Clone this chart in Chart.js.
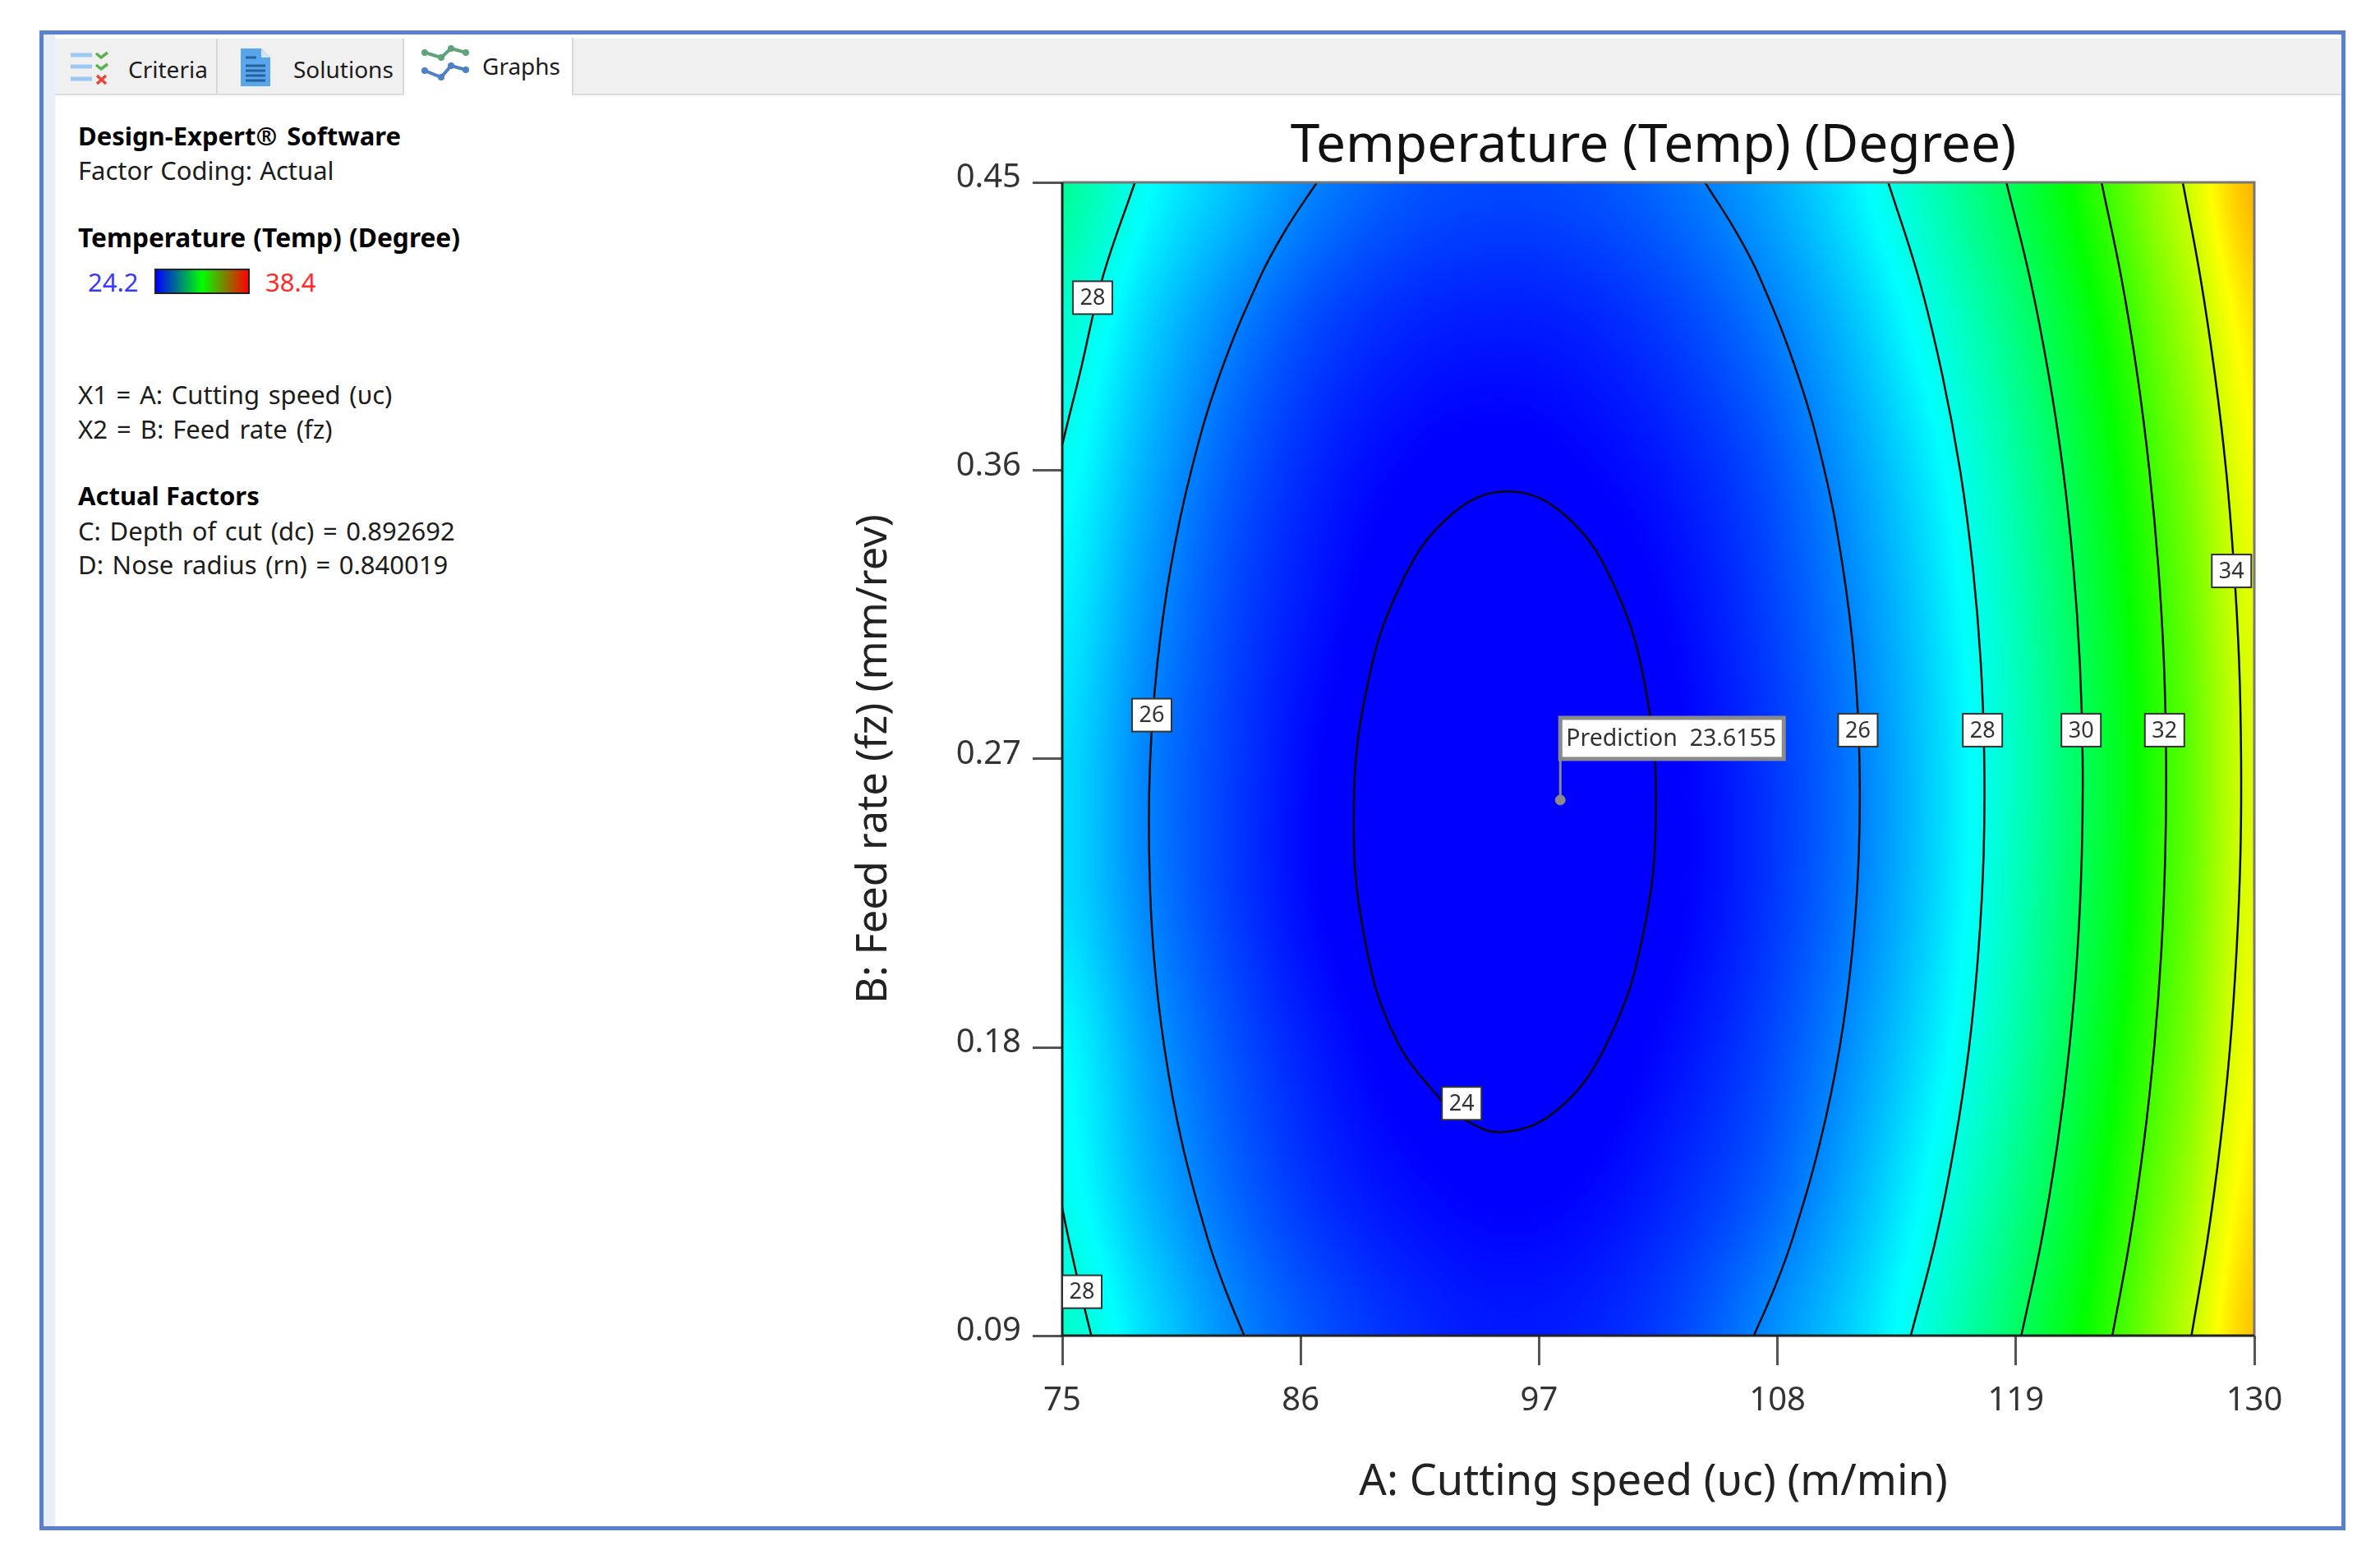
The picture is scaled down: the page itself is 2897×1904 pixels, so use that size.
<!DOCTYPE html>
<html>
<head>
<meta charset="utf-8">
<title>Temperature (Temp) (Degree)</title>
<script src="https://cdn.jsdelivr.net/npm/chart.js@4/dist/chart.umd.min.js"></script>
<style>
    html, body { margin: 0; padding: 0; background: #fff; width: 2897px; height: 1904px; overflow: hidden; }
    body { font-family: "Noto Sans", "Open Sans", sans-serif; color: #1c1c1c; }
    #frame { position: absolute; left: 48px; top: 37px; width: 2797px; height: 1816px; border: 5px solid #5b80cc; background: #fff; }
    #strip { position: absolute; left: 53px; top: 42px; width: 14px; height: 1816px; background: #e9effa; }
    #tabbar { position: absolute; left: 67px; top: 47px; width: 2783px; height: 67px; background: #f0f0f0; border-bottom: 2px solid #dcdcdc; }
    .tab { position: absolute; top: 47px; height: 67px; background: #f0f0f0; border-right: 2px solid #d8d8d8; box-sizing: border-box; }
    .tab.on { background: #fff; height: 70px; top: 46px; }
    .t { position: absolute; white-space: pre; line-height: 40px; font-size: 28px; }
    .s { font-size: 31px; }
    .w { font-size: 31px; word-spacing: 2.6px; }
    .b { font-weight: 700; color: #000; }
    svg { position: absolute; }
    #swatch { position: absolute; left: 188px; top: 327px; width: 112px; height: 27px; border: 2px solid #222;
        background: linear-gradient(90deg, #0000ff, #00ff00 50%, #ff0000); }
    canvas { position: absolute; left: 0; top: 0; }
</style>
</head>
<body>
<div id="frame"></div>
<div id="strip"></div>
<div id="tabbar"></div>
<div class="tab" style="left:67px;width:198px"></div>
<div class="tab" style="left:265px;width:227px"></div>
<div class="tab on" style="left:492px;width:206px"></div>

<svg style="left:84px;top:62px" width="50" height="44" viewBox="0 0 50 44">
    <path d="M2 5h26M2 19h26M2 34h26" stroke="#9cc8f2" stroke-width="5"/>
    <path d="M33 3l6 5 8-6M33 17l6 5 8-6" stroke="#5bb04f" stroke-width="3.5" fill="none"/>
    <path d="M34 30l11 10M45 30l-11 10" stroke="#e8453c" stroke-width="3.5"/>
</svg>
<svg style="left:292px;top:58px" width="38" height="48" viewBox="0 0 38 48">
    <path d="M1 1h25l11 11v35H1z" fill="#5aa6ea"/>
    <path d="M26 1l11 11H26z" fill="#cfe6fb"/>
    <path d="M7 12h13M7 22h24M7 28h24M7 34h24M7 40h24" stroke="#23619f" stroke-width="3"/>
</svg>
<svg style="left:512px;top:52px" width="60" height="50" viewBox="0 0 60 50">
    <path d="M5 12l20 6 12-11 18 5" stroke="#5fa37a" stroke-width="4" fill="none"/>
    <path d="M5 34l20 8 12-14 18 5" stroke="#4f7fc4" stroke-width="4" fill="none"/>
    <g fill="#5fa37a"><circle cx="5" cy="12" r="4"/><circle cx="25" cy="18" r="4"/><circle cx="37" cy="7" r="4"/><circle cx="55" cy="12" r="4"/></g>
    <g fill="#4f7fc4"><circle cx="5" cy="34" r="4"/><circle cx="25" cy="42" r="4"/><circle cx="37" cy="28" r="4"/><circle cx="55" cy="33" r="4"/></g>
</svg>
<span class="t" style="left:156px;top:64px">Criteria</span>
<span class="t" style="left:357px;top:64px">Solutions</span>
<span class="t" style="left:587px;top:60px">Graphs</span>

<span class="t s b" style="left:95px;top:145px;word-spacing:4px">Design-Expert® Software</span>
<span class="t s" style="left:95px;top:187px;word-spacing:1px">Factor Coding: Actual</span>
<span class="t s b" style="left:95px;top:269px;font-size:31.7px;word-spacing:1px">Temperature (Temp) (Degree)</span>
<span class="t s" style="left:107px;top:323px;color:#3a3aff">24.2</span>
<div id="swatch"></div>
<span class="t s" style="left:323px;top:323px;color:#ff2b2b">38.4</span>
<span class="t w" style="left:95px;top:460px">X1 = A: Cutting speed (υc)</span>
<span class="t w" style="left:95px;top:502px;word-spacing:3px">X2 = B: Feed rate (fz)</span>
<span class="t s b" style="left:95px;top:583px">Actual Factors</span>
<span class="t w" style="left:95px;top:626px">C: Depth of cut (dc) = 0.892692</span>
<span class="t w" style="left:95px;top:667px">D: Nose radius (rn) = 0.840019</span>

<canvas id="chart" width="2897" height="1904"></canvas>

<script>
// 坐标轴
const speedTicks = [75, 86, 97, 108, 119, 130];
const feedTicks = [0.09, 0.18, 0.27, 0.36, 0.45];
const chartTitle = "Temperature (Temp) (Degree)";
const speedTitle = "A: Cutting speed (υc) (m/min)";
const feedTitle = "B: Feed rate (fz) (mm/rev)";

// 颜色场：温度，每行一个进给量，每列一个切削速度
const speedColumns = [75, 79, 83, 87, 91, 95, 99, 103, 107, 111, 115, 119, 123, 127, 130];
const feedRows = [0.45, 0.405, 0.36, 0.315, 0.27, 0.225, 0.18, 0.135, 0.09];
const temp045 = [29.2, 27.8, 26.85, 25.95, 25.4, 25.2, 25.3, 25.7, 26.4, 27.4, 28.7, 30.2, 32.05, 34.2, 35.9];
const temp0405 = [28.4, 27.1, 26.0, 25.15, 24.7, 24.55, 24.65, 25.05, 25.75, 26.75, 28.05, 29.55, 31.4, 33.55, 35.2];
const temp036 = [27.9, 26.6, 25.45, 24.65, 24.2, 24.05, 24.2, 24.55, 25.2, 26.25, 27.5, 29.05, 30.95, 33.05, 34.8];
const temp0315 = [27.55, 26.25, 25.15, 24.4, 23.9, 23.75, 23.85, 24.25, 24.95, 25.95, 27.2, 28.75, 30.65, 32.75, 34.5];
const temp027 = [27.3, 26.0, 25.0, 24.2, 23.8, 23.6, 23.75, 24.1, 24.8, 25.75, 27.05, 28.6, 30.5, 32.6, 34.4];
const temp0225 = [27.3, 26.05, 25.0, 24.2, 23.8, 23.62, 23.75, 24.1, 24.8, 25.8, 27.1, 28.7, 30.6, 32.7, 34.5];
const temp018 = [27.75, 26.4, 25.3, 24.5, 24.0, 23.8, 23.9, 24.35, 25.05, 26.1, 27.4, 28.95, 30.9, 33.0, 34.8];
const temp0135 = [27.95, 26.7, 25.6, 24.8, 24.35, 24.15, 24.25, 24.7, 25.4, 26.5, 27.85, 29.4, 31.3, 33.45, 35.2];
const temp009 = [28.5, 27.25, 26.1, 25.3, 24.8, 24.55, 24.65, 25.1, 26.0, 27.0, 28.3, 29.9, 31.75, 33.95, 35.7];
const tempRows = [temp045, temp0405, temp036, temp0315, temp027, temp0225, temp018, temp0135, temp009];

// 色标
const colorStops = [24.2, 27.75, 31.3, 34.85, 38.4];
const stopColors = [[0, 0, 255], [0, 255, 255], [0, 255, 0], [255, 255, 0], [255, 0, 0]];

// 等高线，[切削速度, 进给量]
const contour24 = [[93.0, 0.1591], [90.38, 0.1828], [88.92, 0.2152], [88.45, 0.2535], [89.04, 0.2918], [90.6, 0.3242], [92.89, 0.3459], [95.55, 0.3535], [98.23, 0.3459], [100.46, 0.3242], [101.92, 0.2918], [102.39, 0.2535], [101.8, 0.2152], [100.24, 0.1828], [97.95, 0.1611], [95.27, 0.1535], [93.0, 0.1591]];
const contour26Left = [[86.75, 0.45], [85.29, 0.435], [84.1, 0.42], [82.27, 0.39], [80.95, 0.36], [80.01, 0.33], [79.39, 0.3], [79.06, 0.27], [79.01, 0.24], [79.21, 0.21], [79.71, 0.18], [80.53, 0.15], [81.72, 0.12], [82.49, 0.105], [83.39, 0.09]];
const contour28TopLeft = [[78.35, 0.45], [76.85, 0.42], [75.8, 0.39], [75.0, 0.368], [74.6, 0.355]];
const contour28BottomLeft = [[74.85, 0.135], [75.3, 0.12], [75.8, 0.105], [76.34, 0.09]];
const contour26Right = [[104.65, 0.45], [106.05, 0.435], [107.2, 0.42], [108.93, 0.39], [110.17, 0.36], [111.01, 0.33], [111.55, 0.3], [111.78, 0.27], [111.75, 0.24], [111.45, 0.21], [110.87, 0.18], [109.95, 0.15], [108.68, 0.12], [107.87, 0.105], [106.91, 0.09]];
const contour28Right = [[113.11, 0.45], [114.52, 0.42], [115.6, 0.39], [116.43, 0.36], [117.01, 0.33], [117.38, 0.3], [117.54, 0.27], [117.51, 0.24], [117.27, 0.21], [116.84, 0.18], [116.18, 0.15], [115.3, 0.12], [114.15, 0.09]];
const contour30 = [[118.56, 0.45], [119.65, 0.42], [120.51, 0.39], [121.18, 0.36], [121.65, 0.33], [121.95, 0.3], [122.08, 0.27], [122.04, 0.24], [121.84, 0.21], [121.47, 0.18], [120.92, 0.15], [120.19, 0.12], [119.25, 0.09]];
const contour32 = [[122.95, 0.45], [123.87, 0.42], [124.6, 0.39], [125.16, 0.36], [125.57, 0.33], [125.83, 0.3], [125.93, 0.27], [125.89, 0.24], [125.71, 0.21], [125.38, 0.18], [124.9, 0.15], [124.26, 0.12], [123.45, 0.09]];
const contour34 = [[126.7, 0.45], [127.52, 0.42], [128.18, 0.39], [128.7, 0.36], [129.06, 0.33], [129.3, 0.3], [129.39, 0.27], [129.36, 0.24], [129.18, 0.21], [128.88, 0.18], [128.43, 0.15], [127.84, 0.12], [127.1, 0.09]];
const contours = [contour24, contour26Left, contour28TopLeft, contour28BottomLeft, contour26Right, contour28Right, contour30, contour32, contour34];

// 等高线上的数字标签
const labelText = ["28", "28", "26", "26", "28", "30", "32", "34", "24"];
const labelSpeed = [76.4, 75.91, 79.13, 111.71, 117.46, 122.01, 125.86, 128.95, 93.43];
const labelFeed = [0.414, 0.1037, 0.2837, 0.279, 0.279, 0.279, 0.279, 0.3287, 0.1625];

// 预测点
const predictionSpeed = 97.98;
const predictionFeed = 0.2572;
const predictionText = "Prediction  23.6155";

const fontName = '"Noto Sans", "Open Sans", sans-serif';

function tempColor(t) {
    if (t <= colorStops[0]) return stopColors[0];
    for (let i = 1; i < colorStops.length; i++) {
        if (t <= colorStops[i]) {
            const k = (t - colorStops[i - 1]) / (colorStops[i] - colorStops[i - 1]);
            const a = stopColors[i - 1], b = stopColors[i];
            return [a[0] + (b[0] - a[0]) * k, a[1] + (b[1] - a[1]) * k, a[2] + (b[2] - a[2]) * k];
        }
    }
    return stopColors[stopColors.length - 1];
}

// Catmull-Rom，让读出的表格画出来是平滑的
function smooth(a, b, c, d, t) {
    return b + 0.5 * t * (c - a + t * (2 * a - 5 * b + 4 * c - d + t * (3 * (b - c) + d - a)));
}

function tempAt(speed, feed) {
    let c = 0;
    while (c < speedColumns.length - 2 && speed > speedColumns[c + 1]) c++;
    let r = 0;
    while (r < feedRows.length - 2 && feed < feedRows[r + 1]) r++;
    const u = Math.min(1, Math.max(0, (speed - speedColumns[c]) / (speedColumns[c + 1] - speedColumns[c])));
    const v = Math.min(1, Math.max(0, (feedRows[r] - feed) / (feedRows[r] - feedRows[r + 1])));
    const inRow = row => {
        const vals = tempRows[Math.min(tempRows.length - 1, Math.max(0, row))];
        const at = i => vals[Math.min(vals.length - 1, Math.max(0, i))];
        return smooth(at(c - 1), at(c), at(c + 1), at(c + 2), u);
    };
    return smooth(inRow(r - 1), inRow(r), inRow(r + 1), inRow(r + 2), v);
}

const fieldPlugin = {
    id: "field",
    beforeDatasetsDraw(chart) {
        const { ctx, chartArea: area, scales } = chart;
        const w = Math.round(area.right - area.left), h = Math.round(area.bottom - area.top);
        const off = document.createElement("canvas");
        off.width = w;
        off.height = h;
        const octx = off.getContext("2d");
        const img = octx.createImageData(w, h);
        for (let py = 0; py < h; py++) {
            const feed = scales.y.getValueForPixel(area.top + py + 0.5);
            for (let px = 0; px < w; px++) {
                const speed = scales.x.getValueForPixel(area.left + px + 0.5);
                const col = tempColor(tempAt(speed, feed));
                const i = (py * w + px) * 4;
                img.data[i] = col[0];
                img.data[i + 1] = col[1];
                img.data[i + 2] = col[2];
                img.data[i + 3] = 255;
            }
        }
        octx.putImageData(img, 0, 0);
        ctx.drawImage(off, area.left, area.top);
    }
};

const markupPlugin = {
    id: "markup",
    afterDatasetsDraw(chart) {
        const { ctx, chartArea: area, scales } = chart;
        const { left, right, top, bottom } = area;
        ctx.save();

        // 边框：上、右灰色，左、下深色
        ctx.lineWidth = 3;
        ctx.strokeStyle = "#777";
        ctx.beginPath();
        ctx.moveTo(left, top);
        ctx.lineTo(right, top);
        ctx.lineTo(right, bottom);
        ctx.stroke();
        ctx.strokeStyle = "#222";
        ctx.beginPath();
        ctx.moveTo(left, top);
        ctx.lineTo(left, bottom);
        ctx.lineTo(right, bottom);
        ctx.stroke();

        ctx.textAlign = "center";
        ctx.textBaseline = "middle";
        ctx.font = "27px " + fontName;
        labelText.forEach((text, i) => {
            const x = scales.x.getPixelForValue(labelSpeed[i]);
            const y = scales.y.getPixelForValue(labelFeed[i]);
            ctx.fillStyle = "#fff";
            ctx.fillRect(x - 24, y - 20, 48, 40);
            ctx.strokeStyle = "#333";
            ctx.lineWidth = 2;
            ctx.strokeRect(x - 24, y - 20, 48, 40);
            ctx.fillStyle = "#333";
            ctx.fillText(text, x, y + 1);
        });

        // 预测点的旗标
        const fx = scales.x.getPixelForValue(predictionSpeed);
        const fy = scales.y.getPixelForValue(predictionFeed);
        ctx.strokeStyle = "#8a8a8a";
        ctx.lineWidth = 3;
        ctx.beginPath();
        ctx.moveTo(fx, fy);
        ctx.lineTo(fx, fy - 50);
        ctx.stroke();
        ctx.fillStyle = "#fff";
        ctx.fillRect(fx, fy - 100, 272, 50);
        ctx.lineWidth = 5;
        ctx.strokeRect(fx, fy - 100, 272, 50);
        ctx.fillStyle = "#333";
        ctx.textAlign = "left";
        ctx.font = "28.5px " + fontName;
        ctx.fillText(predictionText, fx + 7, fy - 74);

        // 标题比绘图区中心略微偏左
        const midX = (left + right) / 2 - 6;
        ctx.textAlign = "center";
        ctx.fillStyle = "#111";
        ctx.font = "64px " + fontName;
        ctx.fillText(chartTitle, midX, top - 43);
        ctx.fillStyle = "#222";
        ctx.font = "52.5px " + fontName;
        ctx.fillText(speedTitle, midX, bottom + 179);
        ctx.restore();
    }
};

const contourSets = contours.map(line => ({
    type: "line",
    data: line.map(p => ({ x: p[0], y: p[1] })),
    borderColor: "#0a0a0a",
    borderWidth: 2.5,
    pointRadius: 0,
    tension: 0.4,
    fill: false
}));

new Chart(document.getElementById("chart"), {
    type: "scatter",
    data: {
        datasets: contourSets.concat([{
            type: "scatter",
            data: [{ x: predictionSpeed, y: predictionFeed }],
            pointRadius: 6,
            pointBackgroundColor: "#8a8a8a",
            pointBorderColor: "#8a8a8a"
        }])
    },
    plugins: [fieldPlugin, markupPlugin],
    options: {
        responsive: false,
        animation: false,
        devicePixelRatio: 1,
        layout: { padding: { left: 1000, right: 153, top: 222, bottom: 0 } },
        plugins: {
            legend: { display: false },
            tooltip: { enabled: false },
            title: { display: false }
        },
        scales: {
            x: {
                type: "linear",
                min: 75,
                max: 130,
                afterBuildTicks: axis => { axis.ticks = speedTicks.map(v => ({ value: v })); },
                afterFit: axis => { axis.height = 278; },
                border: { display: false },
                grid: { drawOnChartArea: false, color: "#555", lineWidth: 3, tickLength: 36 },
                ticks: { color: "#333", padding: 20, maxRotation: 0, font: { family: fontName, size: 40 } }
            },
            y: {
                type: "linear",
                min: 0.09,
                max: 0.45,
                afterBuildTicks: axis => { axis.ticks = feedTicks.map(v => ({ value: v })); },
                afterFit: axis => { axis.width = 293; },
                border: { display: false },
                grid: { drawOnChartArea: false, color: "#555", lineWidth: 3, tickLength: 36 },
                ticks: {
                    color: "#333",
                    padding: 14,
                    labelOffset: -5,
                    callback: v => v.toFixed(2),
                    font: { family: fontName, size: 40 }
                },
                title: {
                    display: true,
                    text: feedTitle,
                    color: "#222",
                    font: { family: fontName, size: 50.5, weight: "normal", lineHeight: 1.2 },
                    padding: { top: 34, bottom: 0 }
                }
            }
        }
    }
});
</script>
</body>
</html>
